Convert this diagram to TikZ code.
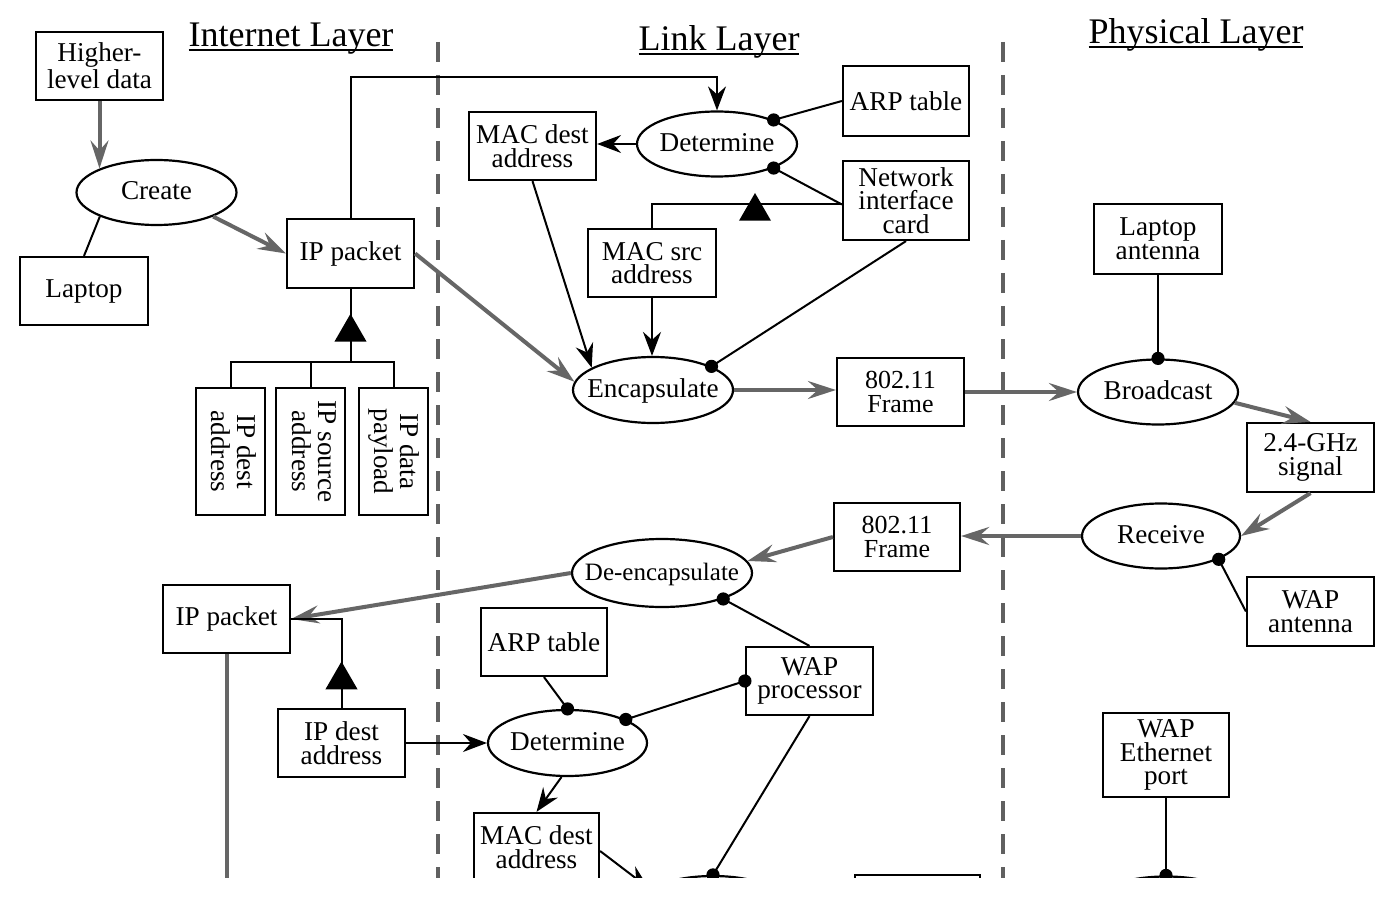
\documentclass[tikz,border=0pt]{standalone}
\usepackage{fontspec}
\usepackage{graphicx}
\setmainfont{Liberation Serif}
\usetikzlibrary{arrows.meta,shapes.geometric,calc}
\definecolor{gline}{RGB}{102,102,102}
\definecolor{gdash}{RGB}{96,96,96}
\newcommand\myul[1]{\setbox0\hbox{#1}\rlap{\rule[-1.8pt]{\wd0}{0.9pt}}\box0}
\newcommand\ptdot[1]{\fill (#1) circle[radius=3.3pt];}
\newcommand\vtext[1]{\rotatebox{-90}{\begin{tabular}{@{}c@{}}#1\end{tabular}}}
\begin{document}
\begin{tikzpicture}[x=0.5pt,y=-0.5pt,
  boxn/.style={draw, line width=1.1pt, inner sep=0pt, align=center,
    minimum width=63.5pt, minimum height=34pt, font=\fontsize{13.6}{11.8}\selectfont},
  ovaln/.style={draw, ellipse, line width=1.1pt, inner sep=0pt,
    minimum width=80pt, minimum height=32.5pt, font=\fontsize{13.6}{11.8}\selectfont,
    text height=9pt, text depth=1.5pt},
  layertitle/.style={font=\fontsize{18}{20}\selectfont, inner sep=0pt, anchor=base},
  conn/.style={line width=1pt, black},
  barrow/.style={conn, -{Stealth[length=12pt,width=9pt,inset=4pt]}},
  gconn/.style={line width=2pt, color=gline},
  garrow/.style={gconn, -{Stealth[length=14pt,width=9pt,inset=5pt]}},
  layerline/.style={line width=2.3pt, color=gdash, dash pattern=on 10pt off 6.5pt},
  trin/.style={regular polygon, regular polygon sides=3, fill=black, inner sep=0pt, minimum size=18.5pt},
]
\useasboundingbox (0,0) rectangle (1395,898);
\fill[white] (0,0) rectangle (1395,898);
\begin{scope}
\clip (0,0) rectangle (1395,877);

% layer separators
\draw[layerline] (438,42) -- (438,880);
\draw[layerline] (1003,42) -- (1003,880);

% titles
\node[layertitle] (tint) at (291,47) {\myul{Internet Layer}};
\node[layertitle] (tlink) at (719,51) {\myul{Link Layer}};
\node[layertitle] (tphys) at (1196,44) {\myul{Physical Layer}};

% ---------- Internet layer (top)
\node[boxn] (higher) at (99.5,66) {Higher-\\level data};
\node[ovaln] (create) at (156.5,192.5) {\makebox[0pt]{Create}};
\node[boxn, minimum width=64pt] (laptop) at (84,291) {Laptop};
\node[boxn, minimum height=34.5pt] (ippkt) at (350.5,253.5) {IP packet};
\node[boxn, minimum width=34.5pt, minimum height=63.5pt] (ipdest) at (230.5,451.5) {\vtext{IP dest\\address}};
\node[boxn, minimum width=34.5pt, minimum height=63.5pt] (ipsrc) at (310.5,451.5) {\vtext{IP source\\address}};
\node[boxn, minimum width=34.5pt, minimum height=63.5pt] (ippay) at (393.5,451.5) {\vtext{IP data\\payload}};
\coordinate (j1) at (350.5,362);

% ---------- Link layer (top)
\node[boxn] (mac1) at (532.5,146) {MAC dest\\address};
\node[ovaln] (det1) at (717,144) {\makebox[0pt]{Determine}};
\node[boxn, minimum width=63pt, minimum height=35pt] (arp1) at (906,101) {ARP table};
\node[boxn, minimum width=63pt, minimum height=39.5pt] (nic) at (906,200.5) {Network\\interface\\card};
\node[boxn, minimum width=64pt] (macsrc) at (652,263) {MAC src\\address};
\node[ovaln, minimum height=33pt] (enc) at (653,390) {\makebox[0pt]{Encapsulate}};
\node[boxn, font=\fontsize{13}{11.8}\selectfont] (frame1) at (900.5,392) {802.11\\Frame};

% ---------- Physical layer
\node[boxn, minimum width=64pt, minimum height=35pt] (lapant) at (1158,239) {Laptop\\antenna};
\node[ovaln] (bcast) at (1158,392) {\makebox[0pt]{Broadcast}};
\node[boxn, minimum height=34.5pt] (ghz) at (1310.5,457.5) {2.4-GHz\\signal};
\node[ovaln, minimum width=79pt] (rcv) at (1161,536) {\makebox[0pt]{Receive}};
\node[boxn, minimum height=34.5pt] (wapant) at (1310.5,611.5) {WAP\\antenna};
\node[boxn, minimum width=63pt, minimum height=42pt] (wapeth) at (1166,755) {WAP\\Ethernet\\port};
\node[ovaln] (rcv2) at (1166,909) {};

% ---------- lower flow
\node[boxn, minimum width=63pt, font=\fontsize{13}{11.8}\selectfont] (frame2) at (897,537) {802.11\\Frame};
\node[ovaln, minimum width=90pt, minimum height=34pt, font=\fontsize{12.5}{11.8}\selectfont] (deenc) at (662,573) {\makebox[0pt]{De-encapsulate}};
\node[boxn] (ippkt2) at (226.5,619) {IP packet};
\node[boxn] (ipd2) at (341.5,743) {IP dest\\address};
\node[boxn, minimum width=63pt] (arp2) at (544,642) {ARP table};
\node[ovaln, minimum width=79.5pt, minimum height=33pt] (det2) at (567.5,743) {\makebox[0pt]{Determine}};
\node[boxn] (wapproc) at (809.5,681) {WAP\\processor};
\node[boxn, minimum width=62.5pt] (mac2) at (536.5,847) {MAC dest\\address};
\node[ovaln, minimum height=33pt] (enc2) at (713,909) {};
\node[boxn, minimum width=62.5pt] (bbox) at (917.5,909) {};
\coordinate (ipbot) at (226.5,900);

% ---------- connectors: internet layer
\draw[garrow] (higher.south) -- (higher.south |- create.157);
\draw[conn] (create.-157) -- (laptop.north);
\draw[garrow] (create.-23) -- (ippkt.west);
\draw[conn] (ippkt.south) -- (j1);
\draw[conn] (ipdest.north) |- (j1) -| (ippay.north);
\draw[conn] (ipsrc.north) -- (ipsrc.north |- j1);
\node[trin] (tri2) at (350.5,332.3) {};

% ---------- connectors: link layer top
\draw[barrow] (ippkt.north) -- ++(0,-141) -| (det1.north);
\draw[barrow] (det1.west) -- (det1.west -| mac1.east);
\draw[conn] (arp1.west) -- (det1.23);
\ptdot{det1.23}
\draw[conn] ([yshift=-2pt]nic.west) -- (det1.-23);
\ptdot{det1.-23}
\draw[conn] ([yshift=-2pt]nic.west) -| (macsrc.north);
\node[trin] (tri1) at (755,211.5) {};
\draw[barrow, line width=1.3pt] (macsrc.south) -- (macsrc.south |- enc.north);
\draw[barrow] (mac1.south) -- (enc.160);
\draw[conn] (nic.south) -- (enc.22);
\ptdot{enc.22}
\draw[garrow] (ippkt.east) -- (enc.174);
\draw[garrow] (enc.east) -- (enc.east -| frame1.west);
\draw[garrow] (frame1.east) -- (frame1.east -| bcast.west);

% ---------- connectors: physical layer
\draw[conn] (lapant.south) -- (bcast.north);
\ptdot{bcast.north}
\draw[garrow] (bcast.-8) -- (ghz.north);
\draw[garrow] (ghz.south) -- (rcv.east);
\draw[conn] (rcv.-22) -- (wapant.west);
\ptdot{rcv.-22}
\draw[garrow] (rcv.west) -- (rcv.west -| frame2.east);
\draw[conn] (wapeth.south) -- (rcv2.north);
\ptdot{rcv2.north}

% ---------- connectors: lower flow
\draw[garrow] (frame2.west) -- (deenc.8);
\draw[garrow] (deenc.west) -- (ippkt2.east);
\draw[conn] (deenc.-23) -- (wapproc.north);
\ptdot{deenc.-23}
\draw[conn] (ipd2.north) |- (ippkt2.east);
\node[trin] (tri3) at (341.5,680) {};
\draw[gconn] (ippkt2.south) -- (ipbot);
\draw[barrow] (ipd2.east) -- (det2.west);
\draw[conn] (arp2.south) -- (det2.north);
\ptdot{det2.north}
\draw[conn] (det2.22) -- (wapproc.west);
\ptdot{det2.22}
\ptdot{wapproc.west}
\draw[barrow] (det2.-100) -- (mac2.north);
\draw[conn] (wapproc.south) -- (enc2.north);
\ptdot{enc2.north}
\draw[barrow] ([yshift=-2pt]mac2.east) -- (enc2.162);
\end{scope}
\end{tikzpicture}
\end{document}
